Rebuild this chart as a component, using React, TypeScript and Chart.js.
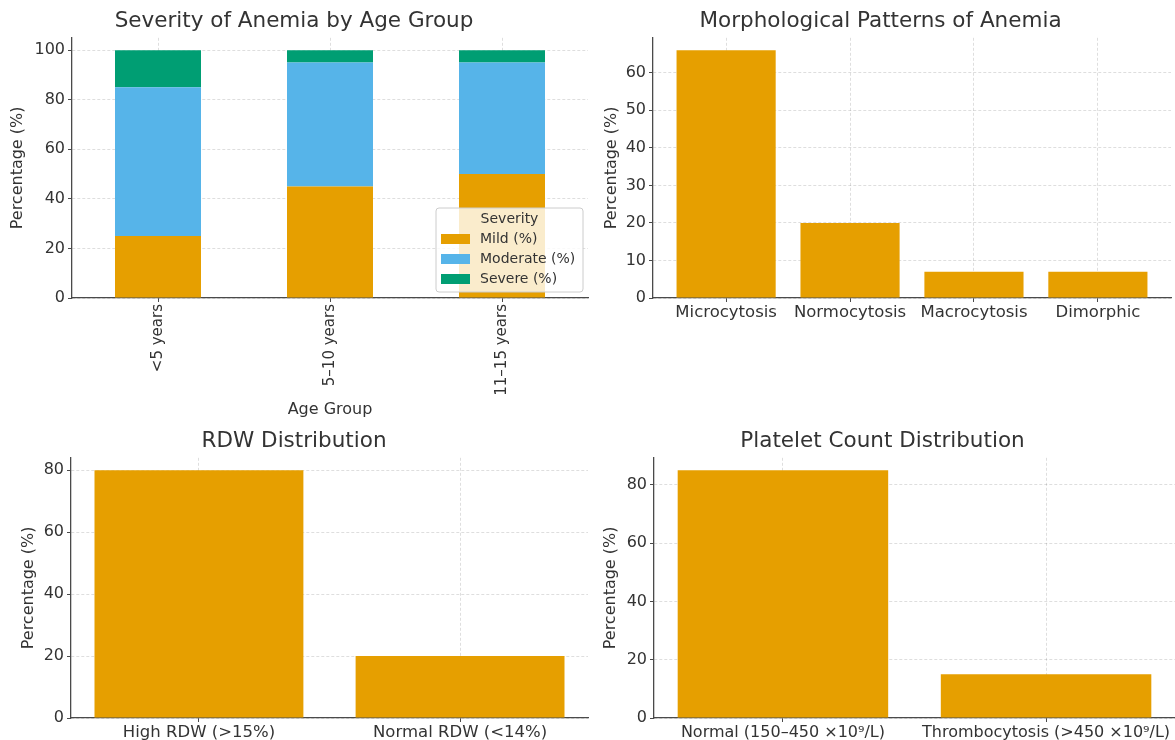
import React, { useEffect, useRef } from 'react';
import { Chart, registerables } from 'chart.js';
Chart.register(...registerables);

// ---------- data ----------
const ageGroups = ['<5 years', '5–10 years', '11–15 years'];
const mildPct = [25, 45, 50];
const moderatePct = [60, 50, 45];
const severePct = [15, 5, 5];

const morphCategories = ['Microcytosis', 'Normocytosis', 'Macrocytosis', 'Dimorphic'];
const morphValues = [66, 20, 7, 7];

const rdwCategories = ['High RDW (>15%)', 'Normal RDW (<14%)'];
const rdwValues = [80, 20];

const plateletCategories = ['Normal (150–450 ×10⁹/L)', 'Thrombocytosis (>450 ×10⁹/L)'];
const plateletValues = [85, 15];

// ---------- style ----------
const FONT = '"DejaVu Sans", sans-serif';
const TEXT = '#333333';
const AXIS = '#4a4a4a';
const GRID = 'rgba(0,0,0,0.13)';
const ORANGE = '#E69F00';
const BLUE = '#56B4E9';
const GREEN = '#009E73';

function yScale(max: number, step: number, width: number, titlePad: number) {
  return {
    type: 'linear',
    min: 0,
    max,
    z: 1,
    ticks: { stepSize: step, includeBounds: false, color: TEXT, font: { family: FONT, size: 16 }, padding: 3 },
    grid: { color: GRID, tickColor: AXIS, tickLength: 4, lineWidth: 1 },
    border: { color: AXIS, width: 1.3, dash: [3, 2] },
    title: {
      display: true,
      text: 'Percentage (%)',
      color: TEXT,
      font: { family: FONT, size: 16 },
      padding: { top: titlePad, bottom: 0 },
    },
    afterFit: (s: any) => {
      s.width = width;
    },
  };
}

function xLinear(cats: string[], min: number, max: number, height: number, fontSize: number) {
  return {
    type: 'linear',
    min,
    max,
    offset: false,
    z: 1,
    ticks: {
      stepSize: 1,
      includeBounds: false,
      autoSkip: false,
      maxRotation: 0,
      minRotation: 0,
      color: TEXT,
      font: { family: FONT, size: fontSize },
      padding: 1,
      callback: (v: any) => (cats[v] !== undefined ? cats[v] : ''),
    },
    grid: { offset: false, color: GRID, tickColor: AXIS, tickLength: 4, lineWidth: 1 },
    border: { color: AXIS, width: 1.3, dash: [3, 2] },
    afterFit: (s: any) => {
      s.height = height;
      s.paddingLeft = 0;
      s.paddingRight = 0;
    },
  };
}

function titleOpts(text: string) {
  return {
    display: true,
    text,
    color: TEXT,
    font: { family: FONT, size: 21.5, weight: 'normal' },
    padding: { top: 9, bottom: 3 },
  };
}

const severityLegend = {
  id: 'severityLegend',
  afterDraw(chart: any) {
    const { ctx, chartArea } = chart;
    const w = 147;
    const h = 84;
    const x = chartArea.right - w - 5;
    const y = chartArea.bottom - h - 6;
    ctx.save();
    ctx.beginPath();
    if (ctx.roundRect) ctx.roundRect(x, y, w, h, 3);
    else ctx.rect(x, y, w, h);
    ctx.fillStyle = 'rgba(255,255,255,0.8)';
    ctx.fill();
    ctx.strokeStyle = '#cccccc';
    ctx.lineWidth = 1;
    ctx.stroke();
    ctx.font = `14px ${FONT}`;
    ctx.textBaseline = 'middle';
    ctx.fillStyle = TEXT;
    ctx.textAlign = 'center';
    ctx.fillText('Severity', x + w / 2, y + 11);
    chart.data.datasets.forEach((ds: any, i: number) => {
      const ry = y + 31 + i * 20;
      ctx.fillStyle = ds.backgroundColor;
      ctx.fillRect(x + 5, ry - 5, 29, 10);
      ctx.fillStyle = TEXT;
      ctx.textAlign = 'left';
      ctx.fillText(ds.label, x + 44, ry);
    });
    ctx.restore();
  },
};

function severityConfig(): any {
  return {
    type: 'bar',
    data: {
      labels: ageGroups,
      datasets: [
        { label: 'Mild (%)', data: mildPct, backgroundColor: ORANGE },
        { label: 'Moderate (%)', data: moderatePct, backgroundColor: BLUE },
        { label: 'Severe (%)', data: severePct, backgroundColor: GREEN },
      ],
    },
    options: {
      responsive: false,
      animation: false,
      layout: { padding: { left: 0, right: 2, top: 0, bottom: 0 } },
      datasets: { bar: { barPercentage: 0.5, categoryPercentage: 1 } },
      plugins: { legend: { display: false }, tooltip: { enabled: false }, title: titleOpts('Severity of Anemia by Age Group') },
      scales: {
        x: {
          type: 'category',
          stacked: true,
          offset: true,
          z: 1,
          ticks: {
            autoSkip: false,
            minRotation: 90,
            maxRotation: 90,
            color: TEXT,
            font: { family: FONT, size: 15 },
            padding: 2,
          },
          grid: { offset: false, color: GRID, tickColor: AXIS, tickLength: 4, lineWidth: 1 },
          border: { color: AXIS, width: 1.3, dash: [3, 2] },
          title: {
            display: true,
            text: 'Age Group',
            color: TEXT,
            font: { family: FONT, size: 16 },
            padding: { top: 4, bottom: 1 },
          },
          afterFit: (s: any) => {
            s.height = 122;
            s.paddingLeft = 0;
            s.paddingRight = 0;
          },
        },
        y: { ...yScale(105, 20, 72, 8.4), stacked: true },
      },
    },
    plugins: [severityLegend],
  };
}

function simpleBarConfig(
  title: string,
  cats: string[],
  values: number[],
  xmin: number,
  xmax: number,
  ymax: number,
  ystep: number,
  yWidth: number,
  yTitlePad: number,
  xHeight: number,
  rightPad: number,
  xFont: number
): any {
  return {
    type: 'bar',
    data: {
      datasets: [
        {
          label: title,
          data: values.map((v, i) => ({ x: i, y: v })),
          backgroundColor: ORANGE,
          barPercentage: 0.8,
          categoryPercentage: 1,
        },
      ],
    },
    options: {
      responsive: false,
      animation: false,
      layout: { padding: { left: 0, right: rightPad, top: 0, bottom: 0 } },
      plugins: { legend: { display: false }, tooltip: { enabled: false }, title: titleOpts(title) },
      scales: {
        x: xLinear(cats, xmin, xmax, xHeight, xFont),
        y: yScale(ymax, ystep, yWidth, yTitlePad),
      },
    },
  };
}

function ChartBox({ left, top, width, height, make }: { left: number; top: number; width: number; height: number; make: () => any }) {
  const ref = useRef<HTMLCanvasElement | null>(null);
  useEffect(() => {
    if (!ref.current) return;
    const chart = new Chart(ref.current, make());
    return () => chart.destroy();
  }, []);
  return (
    <div style={{ position: 'absolute', left, top, width, height }}>
      <canvas ref={ref} width={width} height={height} style={{ display: 'block', width, height }} />
    </div>
  );
}

export default function App() {
  return (
    <div style={{ position: 'fixed', left: 0, top: 0, width: 1175, height: 740, background: '#ffffff', overflow: 'hidden' }}>
      <ChartBox left={0} top={0} width={590} height={420} make={severityConfig} />
      <ChartBox
        left={590}
        top={0}
        width={585}
        height={330}
        make={() =>
          simpleBarConfig('Morphological Patterns of Anemia', morphCategories, morphValues, -0.59, 3.59, 69.3, 10, 63, 12.4, 32, 4, 16.5)
        }
      />
      <ChartBox
        left={0}
        top={420}
        width={590}
        height={320}
        make={() => simpleBarConfig('RDW Distribution', rdwCategories, rdwValues, -0.49, 1.49, 84, 20, 71, 19.4, 22, 2, 16.5)}
      />
      <ChartBox
        left={590}
        top={420}
        width={585}
        height={320}
        make={() =>
          simpleBarConfig('Platelet Count Distribution', plateletCategories, plateletValues, -0.49, 1.49, 89.25, 20, 64, 11.4, 22, 0, 16)
        }
      />
    </div>
  );
}
